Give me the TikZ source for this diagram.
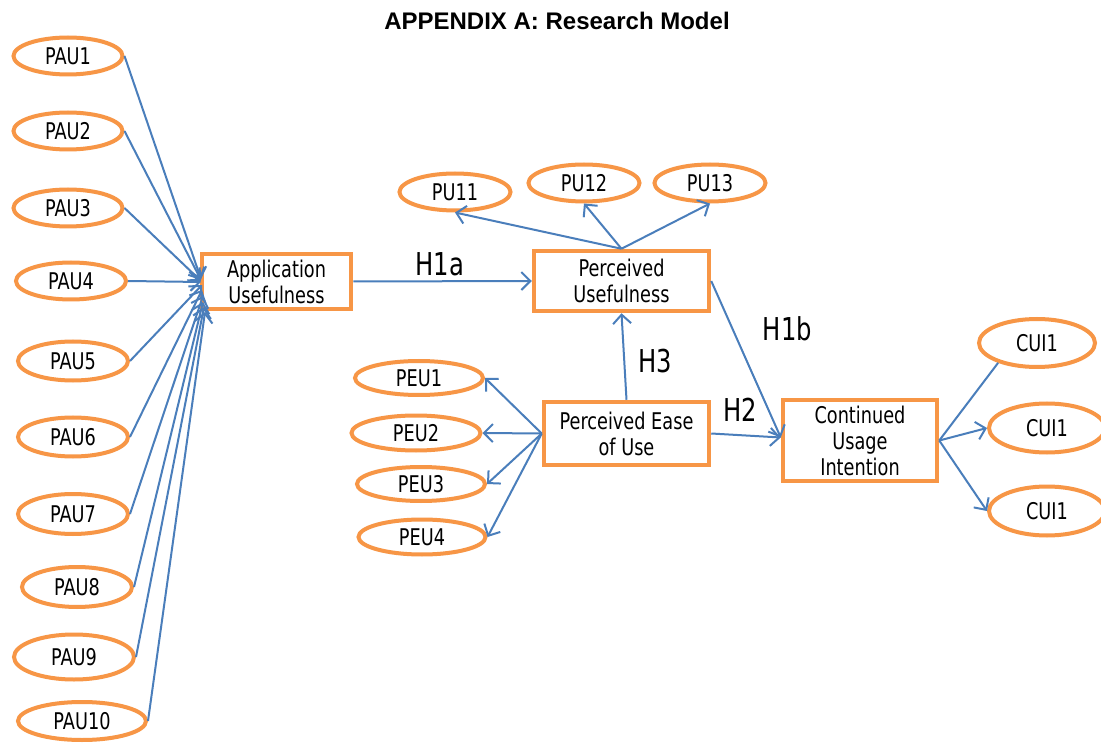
\documentclass[tikz,border=0pt]{standalone}
\usepackage{fontspec}
\setmainfont{Liberation Sans}
\newfontfamily\lab[FakeStretch=0.77]{DejaVu Sans}
\usetikzlibrary{shapes.geometric,arrows.meta,calc}
\definecolor{orng}{HTML}{F79646}
\definecolor{blu}{HTML}{4A7EBB}
\tikzset{
 item/.style={ellipse, draw=orng, line width=4pt, inner sep=0pt, font=\lab\fontsize{23}{26}\selectfont, text=black},
 cons/.style={rectangle, draw=orng, line width=4.5pt, inner sep=0pt, align=center, font=\lab\fontsize{23}{26}\selectfont, text=black},
 link/.style={draw=blu, line width=2pt, -{Straight Barb[length=9pt,width=18pt]}},
 plainlink/.style={draw=blu, line width=2pt},
 hyp/.style={font=\lab\fontsize{31.5}{34}\selectfont, anchor=base, inner sep=0pt},
}
\begin{document}
\begin{tikzpicture}[x=1pt,y=-1pt]
\useasboundingbox[fill=white] (0,0) rectangle (1101,743);
\node[font=\bfseries\fontsize{24}{28}\selectfont, anchor=base, inner sep=0pt] (title) at (557,30) {APPENDIX A: Research Model};

% constructs
\node[cons, minimum width=149pt, minimum height=55pt] (AU) at (276.5,281.5) {Application\\Usefulness};
\node[cons, minimum width=175pt, minimum height=60pt] (PU) at (621.5,281) {Perceived\\Usefulness};
\node[cons, minimum width=165pt, minimum height=63pt] (PEU) at (626.5,433.5) {Perceived Ease\\of Use};
\node[cons, minimum width=154pt, minimum height=81pt] (CUI) at (860,440.5) {Continued\\Usage\\Intention};

% PAU items
\node[item, minimum width=109pt, minimum height=37pt] (PAU1) at (68,56) {PAU1};
\node[item, minimum width=109pt, minimum height=37pt] (PAU2) at (68,131) {PAU2};
\node[item, minimum width=109pt, minimum height=37pt] (PAU3) at (68,208) {PAU3};
\node[item, minimum width=110pt, minimum height=37pt] (PAU4) at (71,281) {PAU4};
\node[item, minimum width=110pt, minimum height=39pt] (PAU5) at (73,361) {PAU5};
\node[item, minimum width=110pt, minimum height=39pt] (PAU6) at (73,437) {PAU6};
\node[item, minimum width=110pt, minimum height=40pt] (PAU7) at (73,514) {PAU7};
\node[item, minimum width=110pt, minimum height=40pt] (PAU8) at (77,587) {PAU8};
\node[item, minimum width=120pt, minimum height=45pt] (PAU9) at (74,657) {PAU9};
\node[item, minimum width=128pt, minimum height=38pt] (PAU10) at (82,721) {PAU10};

% PU items
\node[item, minimum width=111pt, minimum height=37pt] (PU11) at (455,192) {PU11};
\node[item, minimum width=111pt, minimum height=37pt] (PU12) at (584,183) {PU12};
\node[item, minimum width=111pt, minimum height=37pt] (PU13) at (710,183) {PU13};

% PEU items
\node[item, minimum width=128pt, minimum height=34pt] (PEU1) at (419,378) {PEU1};
\node[item, minimum width=129pt, minimum height=35pt] (PEU2) at (416,433) {PEU2};
\node[item, minimum width=128pt, minimum height=34pt] (PEU3) at (421,484) {PEU3};
\node[item, minimum width=127pt, minimum height=35pt] (PEU4) at (422,537) {PEU4};

% CUI items
\node[item, minimum width=116pt, minimum height=48pt] (CUIa) at (1037,343) {CUI1};
\node[item, minimum width=116pt, minimum height=49pt] (CUIb) at (1047,428) {CUI1};
\node[item, minimum width=116pt, minimum height=49pt] (CUIc) at (1047,511) {CUI1};

% tips at Application Usefulness
\coordinate (t1) at (201,279);
\coordinate (t2) at (201,280);
\coordinate (t3) at (201,281);
\coordinate (t4) at (201,282);
\coordinate (t5) at (202,285);
\coordinate (t6) at (202,290);
\coordinate (t7) at (203,296);
\coordinate (t8) at (203,302);
\coordinate (t9) at (204,307);
\coordinate (t10) at (205,312);
\foreach \i in {1,...,10} {\draw[link] (PAU\i.east) -- (t\i);}

% structural paths
\draw[link] (AU.east) -- (PU.west);
\draw[link] (PEU.north) -- (PU.south);
\coordinate (cin) at ($(CUI.west)+(0,-3)$);
\draw[link] (PU.east) -- (cin);
\draw[link] (PEU.east) -- (cin);

% PU reflective
\draw[link] (PU.north) -- (PU11.south);
\draw[link] (PU.north) -- (PU12.south);
\draw[link] (PU.north) -- (PU13.south);

% PEU reflective
\draw[link] (PEU.west) -- (PEU1.east);
\draw[link] (PEU.west) -- (PEU2.east);
\draw[link] (PEU.west) -- (PEU3.east);
\draw[link] (PEU.west) -- (PEU4.east);

% CUI reflective
\draw[plainlink] (CUI.east) -- (CUIa.207);
\draw[link] (CUI.east) -- (CUIb.west);
\draw[link] (CUI.east) -- (CUIc.west);

% hypothesis labels
\node[hyp] (h1a) at (440,276) {H1a};
\node[hyp] (h1b) at (787.5,341) {H1b};
\node[hyp] (h2) at (740.5,421) {H2};
\node[hyp] (h3) at (655,373) {H3};
\end{tikzpicture}
\end{document}
